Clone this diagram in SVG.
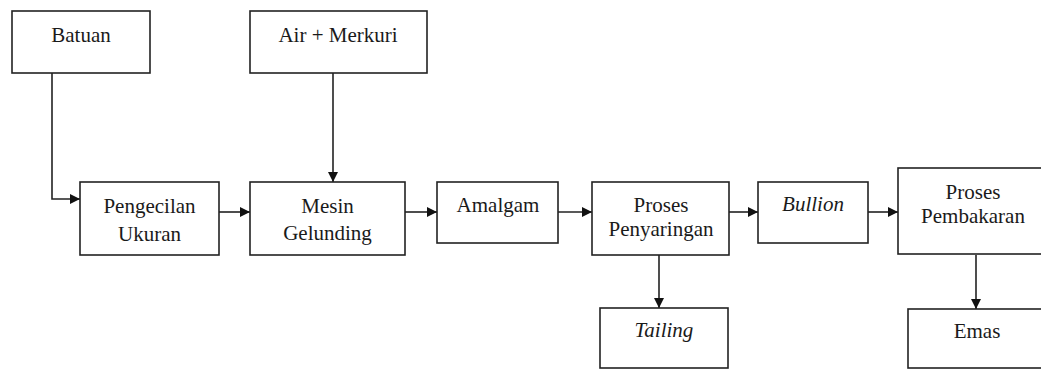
<svg xmlns="http://www.w3.org/2000/svg" width="1041" height="370" viewBox="0 0 1041 370">
<style>
.box{fill:#fff;stroke:#222;stroke-width:1.6}
.t{font-family:'Liberation Serif','DejaVu Serif',serif;font-size:21px;fill:#1a1a1a;text-anchor:middle}
.i{font-style:italic}
.c{fill:none;stroke:#222;stroke-width:1.6}
</style>
<defs>
<marker id="ah" viewBox="0 0 10 10" refX="10" refY="5" markerWidth="11" markerHeight="10" markerUnits="userSpaceOnUse" orient="auto">
<path d="M0,0 L10,5 L0,10 z" fill="#111"/>
</marker>
</defs>
<rect width="1041" height="370" fill="#fff"/>
<g id="connectors">
<path class="c" d="M52,73 V199 H80" marker-end="url(#ah)"/>
<path class="c" d="M333,73 V182" marker-end="url(#ah)"/>
<path class="c" d="M219,212 H250" marker-end="url(#ah)"/>
<path class="c" d="M405,212 H437" marker-end="url(#ah)"/>
<path class="c" d="M558,212 H592" marker-end="url(#ah)"/>
<path class="c" d="M729,212 H758" marker-end="url(#ah)"/>
<path class="c" d="M868,212 H898" marker-end="url(#ah)"/>
<path class="c" d="M659,255 V308" marker-end="url(#ah)"/>
<path class="c" d="M976,255 V309" marker-end="url(#ah)"/>
</g>
<g id="batuan"><rect class="box" x="12" y="11" width="138" height="62"/><text class="t" x="81" y="42">Batuan</text></g>
<g id="air-merkuri"><rect class="box" x="250" y="11" width="177" height="62"/><text class="t" x="338" y="42">Air + Merkuri</text></g>
<g id="pengecilan"><rect class="box" x="80" y="182" width="139" height="73"/><text class="t" x="149.5" y="213">Pengecilan</text><text class="t" x="149.5" y="241">Ukuran</text></g>
<g id="mesin"><rect class="box" x="250" y="182" width="155" height="73"/><text class="t" x="327.5" y="213">Mesin</text><text class="t" x="327.5" y="240">Gelunding</text></g>
<g id="amalgam"><rect class="box" x="437" y="182" width="121" height="61"/><text class="t" x="498" y="212">Amalgam</text></g>
<g id="penyaringan"><rect class="box" x="592" y="182" width="137" height="73"/><text class="t" x="661" y="212">Proses</text><text class="t" x="661" y="236">Penyaringan</text></g>
<g id="bullion"><rect class="box" x="758" y="182" width="110" height="61"/><text class="t i" x="813" y="211">Bullion</text></g>
<g id="pembakaran"><rect class="box" x="898" y="168" width="150" height="86"/><text class="t" x="973" y="199">Proses</text><text class="t" x="973" y="223">Pembakaran</text></g>
<g id="tailing"><rect class="box" x="600" y="308" width="128" height="60"/><text class="t i" x="664" y="337">Tailing</text></g>
<g id="emas"><rect class="box" x="908" y="309" width="140" height="59"/><text class="t" x="977" y="338">Emas</text></g>
</svg>
